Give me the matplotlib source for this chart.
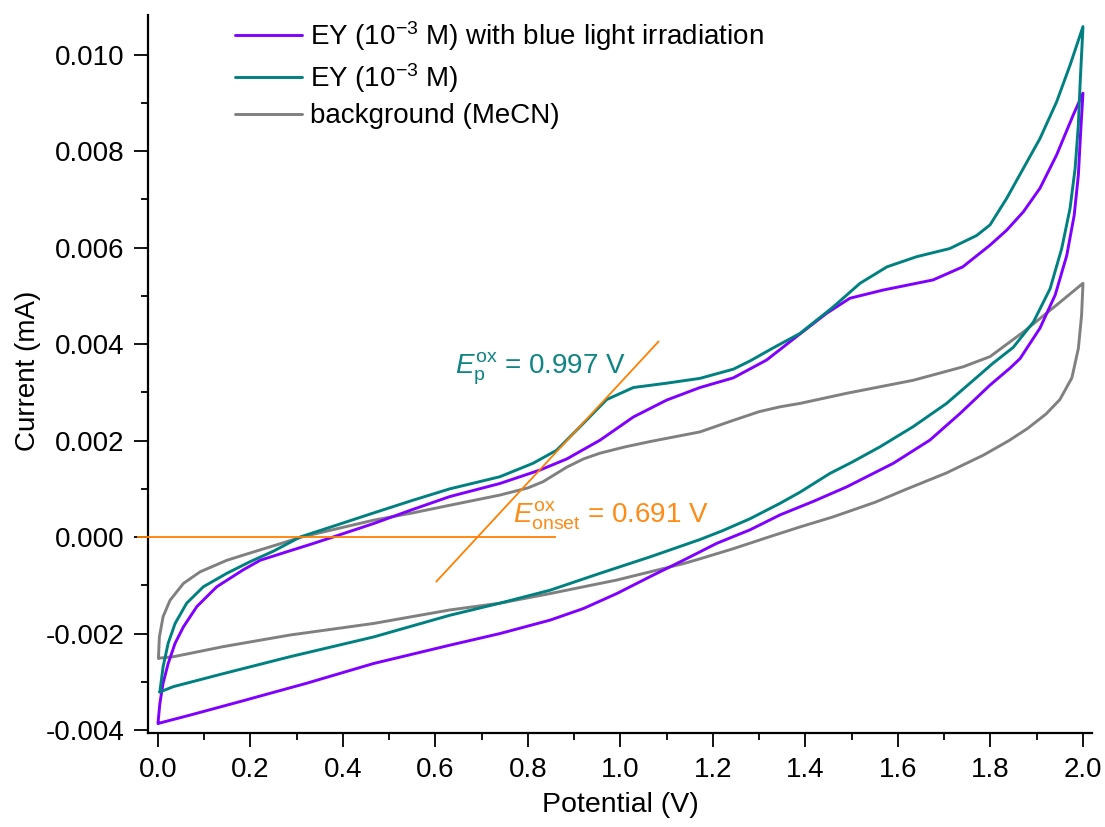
import matplotlib
matplotlib.use("Agg")
import matplotlib.pyplot as plt
from matplotlib.ticker import MultipleLocator, FormatStrFormatter

plt.rcParams['font.family'] = ['Liberation Sans', 'DejaVu Sans']
plt.rcParams['mathtext.fontset'] = 'custom'
plt.rcParams['mathtext.rm'] = 'Liberation Sans'
plt.rcParams['mathtext.it'] = 'Liberation Sans:italic'
plt.rcParams['axes.unicode_minus'] = False

# ---- data (potential in V, current in mA) ----
# EY (1e-3 M) with blue light irradiation: forward scan, then reverse scan
ey_light_fwd_x = [0.000, 0.004, 0.011, 0.022, 0.037, 0.055, 0.084, 0.127, 0.184, 0.221, 0.280,
                  0.330, 0.378, 0.466, 0.550, 0.631, 0.739, 0.826, 0.884, 0.956, 1.028, 1.100,
                  1.172, 1.244, 1.316, 1.380, 1.446, 1.496, 1.568, 1.676, 1.740, 1.799, 1.835,
                  1.871, 1.907, 1.943, 1.979, 2.000]
ey_light_fwd_y = [-0.00386, -0.00345, -0.00303, -0.00262, -0.00220, -0.00186, -0.00144, -0.00103,
                  -0.00068, -0.00048, -0.00030, -0.00015, 0.00000, 0.00028, 0.00057, 0.00084,
                  0.00111, 0.00139, 0.00162, 0.00201, 0.00249, 0.00284, 0.00310, 0.00330,
                  0.00367, 0.00415, 0.00464, 0.00495, 0.00512, 0.00533, 0.00560, 0.00605,
                  0.00636, 0.00674, 0.00723, 0.00792, 0.00875, 0.00920]
ey_light_rev_x = [2.000, 1.995, 1.990, 1.981, 1.965, 1.940, 1.907, 1.864, 1.842, 1.799, 1.734,
                  1.669, 1.590, 1.489, 1.417, 1.345, 1.280, 1.208, 1.136, 1.064, 0.992, 0.920,
                  0.848, 0.739, 0.631, 0.466, 0.321, 0.177, 0.069, 0.001]
ey_light_rev_y = [0.00920, 0.00840, 0.00750, 0.00667, 0.00584, 0.00502, 0.00433, 0.00370,
                  0.00350, 0.00315, 0.00256, 0.00201, 0.00153, 0.00104, 0.00074, 0.00046,
                  0.00015, -0.00013, -0.00048, -0.00082, -0.00117, -0.00148, -0.00172,
                  -0.00200, -0.00224, -0.00262, -0.00303, -0.00341, -0.00369, -0.00386]

# EY (1e-3 M)
ey_fwd_x = [0.004, 0.011, 0.022, 0.037, 0.062, 0.098, 0.149, 0.199, 0.250, 0.307, 0.390,
            0.466, 0.550, 0.631, 0.739, 0.811, 0.862, 0.920, 0.970, 1.028, 1.100, 1.172,
            1.244, 1.280, 1.330, 1.388, 1.460, 1.518, 1.576, 1.640, 1.712, 1.770, 1.799,
            1.835, 1.871, 1.907, 1.943, 1.972, 2.000]
ey_fwd_y = [-0.00321, -0.00269, -0.00220, -0.00179, -0.00137, -0.00103, -0.00075, -0.00051,
            -0.00029, 0.00000, 0.00026, 0.00050, 0.00076, 0.00100, 0.00125, 0.00153,
            0.00180, 0.00236, 0.00285, 0.00310, 0.00319, 0.00329, 0.00348, 0.00365,
            0.00392, 0.00422, 0.00477, 0.00526, 0.00560, 0.00581, 0.00598, 0.00625,
            0.00647, 0.00702, 0.00764, 0.00826, 0.00902, 0.00978, 0.01058]
ey_rev_x = [2.000, 1.994, 1.990, 1.983, 1.972, 1.954, 1.929, 1.893, 1.849, 1.805, 1.763,
            1.705, 1.633, 1.561, 1.500, 1.453, 1.388, 1.345, 1.280, 1.220, 1.172, 1.064,
            0.956, 0.848, 0.739, 0.631, 0.466, 0.285, 0.141, 0.033, 0.004]
ey_rev_y = [0.01058, 0.00944, 0.00854, 0.00764, 0.00681, 0.00598, 0.00515, 0.00446,
            0.00393, 0.00360, 0.00325, 0.00277, 0.00229, 0.00187, 0.00155, 0.00132,
            0.00093, 0.00070, 0.00038, 0.00013, -0.00005, -0.00041, -0.00075, -0.00110,
            -0.00137, -0.00162, -0.00207, -0.00248, -0.00283, -0.00310, -0.00321]

# background (MeCN)
bg_fwd_x = [0.001, 0.003, 0.011, 0.026, 0.055, 0.091, 0.149, 0.199, 0.250, 0.310, 0.390,
            0.466, 0.550, 0.631, 0.739, 0.800, 0.833, 0.884, 0.920, 0.956, 1.010, 1.064,
            1.172, 1.244, 1.300, 1.345, 1.388, 1.489, 1.633, 1.741, 1.799, 1.871, 1.943,
            2.000]
bg_fwd_y = [-0.00251, -0.00207, -0.00165, -0.00131, -0.00096, -0.00072, -0.00048, -0.00033,
            -0.00018, 0.00000, 0.00018, 0.00035, 0.00050, 0.00066, 0.00087, 0.00102,
            0.00115, 0.00145, 0.00162, 0.00174, 0.00187, 0.00198, 0.00218, 0.00242,
            0.00260, 0.00270, 0.00277, 0.00298, 0.00325, 0.00353, 0.00374, 0.00425,
            0.00481, 0.00526]
bg_rev_x = [2.000, 1.997, 1.990, 1.976, 1.950, 1.920, 1.880, 1.840, 1.785, 1.705, 1.620,
            1.550, 1.460, 1.388, 1.320, 1.244, 1.172, 1.136, 0.992, 0.848, 0.739, 0.631,
            0.466, 0.285, 0.141, 0.033, 0.001]
bg_rev_y = [0.00526, 0.00460, 0.00391, 0.00330, 0.00285, 0.00255, 0.00225, 0.00200,
            0.00170, 0.00133, 0.00100, 0.00072, 0.00042, 0.00021, 0.00000, -0.00024,
            -0.00045, -0.00055, -0.00089, -0.00117, -0.00137, -0.00151, -0.00179,
            -0.00203, -0.00227, -0.00248, -0.00251]

# onset construction lines
baseline_x = [-0.043, 0.858]
baseline_y = [0.0, 0.0]
tangent_x = [0.602, 1.082]
tangent_y = [-0.00092, 0.00405]

labels = [r"EY (10$^{\mathregular{-3}}$ M) with blue light irradiation",
          r"EY (10$^{\mathregular{-3}}$ M)",
          "background (MeCN)"]

PURPLE = '#8000FF'
TEAL = '#008080'
GRAY = '#808080'
ORANGE = '#FF8000'

fig = plt.figure(figsize=(11.05, 8.27), dpi=100)
ax = fig.add_axes([148/1105, 1-733/827, (1092-148)/1105, (733-15)/827])

lw = 2.1
kw = dict(lw=lw, solid_joinstyle='round', solid_capstyle='round')
ax.plot(ey_light_fwd_x + ey_light_rev_x, ey_light_fwd_y + ey_light_rev_y,
        color=PURPLE, label=labels[0], zorder=3, **kw)
ax.plot(ey_fwd_x + ey_rev_x, ey_fwd_y + ey_rev_y, color=TEAL, label=labels[1], zorder=3, **kw)
ax.plot(bg_fwd_x + bg_rev_x, bg_fwd_y + bg_rev_y, color=GRAY, label=labels[2], zorder=2, **kw)

ax.plot(baseline_x, baseline_y, color=ORANGE, lw=1.3, clip_on=False, zorder=4)
ax.plot(tangent_x, tangent_y, color=ORANGE, lw=1.3, zorder=4)

ax.text(0.642, 0.00340, r"$\mathit{E}_{\mathregular{p}}^{\mathregular{ox}}$ = 0.997 V",
        color='#0e8484', fontsize=20, ha='left', va='baseline')
ax.text(0.768, 0.00031, r"$\mathit{E}_{\mathregular{onset}}^{\mathregular{ox}}$ = 0.691 V",
        color='#FF8A14', fontsize=20, ha='left', va='baseline')

ax.set_xlim(-0.0216, 2.0195)
ax.set_ylim(-0.00406, 0.01082)

for s in ['top', 'right']:
    ax.spines[s].set_visible(False)
for s in ['left', 'bottom']:
    ax.spines[s].set_linewidth(1.6)

ax.xaxis.set_major_locator(MultipleLocator(0.2))
ax.xaxis.set_minor_locator(MultipleLocator(0.1))
ax.yaxis.set_major_locator(MultipleLocator(0.002))
ax.yaxis.set_minor_locator(MultipleLocator(0.001))
ax.xaxis.set_major_formatter(FormatStrFormatter('%.1f'))
ax.yaxis.set_major_formatter(FormatStrFormatter('%.3f'))
ax.tick_params(which='major', direction='out', length=10, width=1.3, labelsize=20, pad=7)
ax.tick_params(which='minor', direction='out', length=5, width=1.3)

fig.text(620/1105, 1-805/827, "Potential (V)", fontsize=20.5, ha='center', va='center')
fig.text(28/1105, 1-371/827, "Current (mA)", fontsize=20, ha='center', va='center', rotation=90)

leg = ax.legend(loc='upper left', bbox_to_anchor=((235-148)/944, (733-19)/718),
                frameon=False, fontsize=20, borderpad=0, borderaxespad=0,
                handlelength=2.4, handletextpad=0.3, labelspacing=0.3)

fig.savefig("out.png", dpi=100)
